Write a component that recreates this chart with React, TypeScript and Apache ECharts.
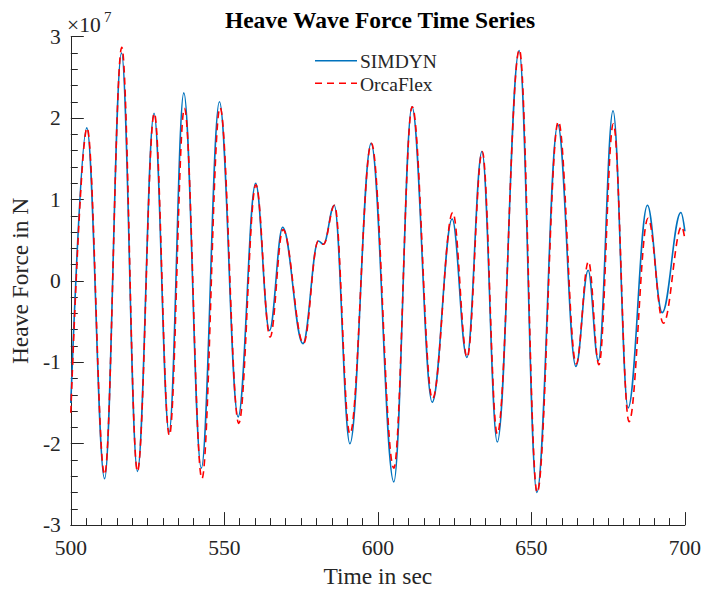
import React, { useEffect, useRef } from "react";
import * as echarts from "echarts";

// Time (s) of each turning point, and force values in units of 1e7 N
const simTime = [500, 505.2, 511, 516.5, 521.7, 527.1, 532, 536.8, 542.5, 548.4, 554.5, 560.2, 564.7, 569, 575.6, 580.6, 582.3, 585.8, 590.9, 597.8, 605.2, 611.1, 617.7, 624.2, 629, 633.9, 638.9, 646, 651.8, 658.6, 664.5, 668.5, 671.8, 676.6, 681.5, 687.8, 692.6, 698.7, 700];
const simdyn = [-1.5, 1.88, -2.43, 2.8, -2.34, 2.06, -1.86, 2.31, -2.3, 2.2, -1.67, 1.2, -0.61, 0.66, -0.77, 0.49, 0.45, 0.93, -2.0, 1.69, -2.47, 2.14, -1.49, 0.76, -0.94, 1.59, -1.98, 2.83, -2.6, 1.92, -1.05, 0.13, -0.98, 2.09, -1.56, 0.93, -0.39, 0.84, 0.61];

const orcaTime = [500, 505.3, 511, 516.6, 521.7, 527.2, 532.1, 537, 542.7, 548.6, 554.7, 560.3, 564.9, 569.1, 575.8, 580.6, 582.3, 585.9, 590.9, 597.9, 605.2, 611.2, 617.8, 624.4, 629.1, 634, 638.9, 646.1, 651.9, 658.8, 664.6, 668.6, 672, 676.7, 681.8, 688, 693, 699, 700];
const orcaflex = [-1.62, 1.88, -2.38, 2.87, -2.34, 2.06, -1.9, 2.12, -2.43, 2.13, -1.75, 1.18, -0.69, 0.63, -0.77, 0.49, 0.45, 0.93, -1.88, 1.69, -2.3, 2.14, -1.45, 0.84, -0.94, 1.59, -1.88, 2.84, -2.6, 1.96, -1.02, 0.24, -1.03, 1.93, -1.73, 0.77, -0.52, 0.67, 0.51];

const seriesNames = ["SIMDYN", "OrcaFlex"];
const seriesColors = ["#0072BD", "#FF0000"];
const yTickLabels = ["-3", "-2", "-1", "0", "1", "2", "3"];
const SCALE = 1e7;

const FONT = "'Liberation Serif', 'Times New Roman', serif";
const AXIS_COLOR = "#262626";
const DASH = [7, 5];

export default function App() {
  const ref = useRef<HTMLDivElement>(null);
  useEffect(() => {
    if (!ref.current) return;
    const chart = echarts.init(ref.current, null, { renderer: "svg" });
    const simData = simTime.map((t, i) => [t, simdyn[i] * SCALE]);
    const orcaData = orcaTime.map((t, i) => [t, orcaflex[i] * SCALE]);

    const legendRows = [60.7, 83.3];
    const legendGraphics: any[] = [];
    seriesNames.forEach((name, i) => {
      legendGraphics.push({
        type: "line",
        shape: { x1: 315, y1: legendRows[i], x2: 357, y2: legendRows[i] },
        style: { stroke: seriesColors[i], lineWidth: 1.6, lineDash: i === 1 ? DASH : null },
        silent: true,
      });
      legendGraphics.push({
        type: "text",
        x: 360,
        y: legendRows[i] + 0.8,
        style: {
          text: name,
          fontFamily: FONT,
          fontSize: 19.5,
          fill: AXIS_COLOR,
          textAlign: "left",
          textVerticalAlign: "middle",
        },
        silent: true,
      });
    });

    chart.setOption({
      animation: false,
      backgroundColor: "#ffffff",
      title: {
        text: "Heave Wave Force Time Series",
        left: 375,
        top: 3,
        textAlign: "center",
        textStyle: { fontFamily: FONT, fontSize: 23.5, fontWeight: "bold", color: "#000" },
      },
      grid: { left: 65, right: 18, top: 36.7, bottom: 67, containLabel: false },
      xAxis: {
        type: "value",
        min: 500,
        max: 700,
        interval: 50,
        name: "Time in sec",
        nameLocation: "middle",
        nameGap: 38,
        nameTextStyle: { fontFamily: FONT, fontSize: 23.5, color: AXIS_COLOR },
        axisLine: { show: true, onZero: false, lineStyle: { color: AXIS_COLOR, width: 1 } },
        axisTick: { show: true, inside: true, length: 13, lineStyle: { color: AXIS_COLOR } },
        minorTick: { show: true, splitNumber: 10, length: 7, lineStyle: { color: AXIS_COLOR } },
        axisLabel: { fontFamily: FONT, fontSize: 21.5, color: AXIS_COLOR, margin: 12 },
        splitLine: { show: false },
      },
      yAxis: {
        type: "value",
        min: -3 * SCALE,
        max: 3 * SCALE,
        interval: SCALE,
        name: "Heave Force in N",
        nameLocation: "middle",
        nameGap: 33,
        nameTextStyle: { fontFamily: FONT, fontSize: 23.5, color: AXIS_COLOR },
        axisLine: { show: true, onZero: false, lineStyle: { color: AXIS_COLOR, width: 1 } },
        axisTick: { show: true, inside: true, length: 13, lineStyle: { color: AXIS_COLOR } },
        minorTick: { show: true, splitNumber: 5, length: 7, lineStyle: { color: AXIS_COLOR } },
        axisLabel: {
          fontFamily: FONT,
          fontSize: 21.5,
          color: AXIS_COLOR,
          margin: 10,
          formatter: (v: number) => yTickLabels[Math.round(v / SCALE) + 3],
        },
        splitLine: { show: false },
      },
      graphic: [
        {
          type: "text",
          x: 67,
          y: 25,
          style: {
            text: "×10",
            fontFamily: FONT,
            fontSize: 21.5,
            fill: AXIS_COLOR,
            textAlign: "left",
            textVerticalAlign: "middle",
          },
          silent: true,
        },
        {
          type: "text",
          x: 104,
          y: 16.5,
          style: {
            text: "7",
            fontFamily: FONT,
            fontSize: 15,
            fill: AXIS_COLOR,
            textAlign: "left",
            textVerticalAlign: "middle",
          },
          silent: true,
        },
        ...legendGraphics,
      ],
      series: [
        {
          name: "SIMDYN",
          type: "line",
          data: simData,
          smooth: 0.38,
          smoothMonotone: "x",
          showSymbol: false,
          symbol: "none",
          lineStyle: { color: seriesColors[0], width: 1.6 },
          itemStyle: { color: seriesColors[0] },
          z: 2,
        },
        {
          name: "OrcaFlex",
          type: "line",
          data: orcaData,
          smooth: 0.38,
          smoothMonotone: "x",
          showSymbol: false,
          symbol: "none",
          lineStyle: { color: seriesColors[1], width: 1.6, type: DASH },
          itemStyle: { color: seriesColors[1] },
          z: 3,
        },
      ],
    });
    return () => chart.dispose();
  }, []);
  return <div ref={ref} style={{ position: "fixed", left: 0, top: 0, width: 704, height: 593 }} />;
}
